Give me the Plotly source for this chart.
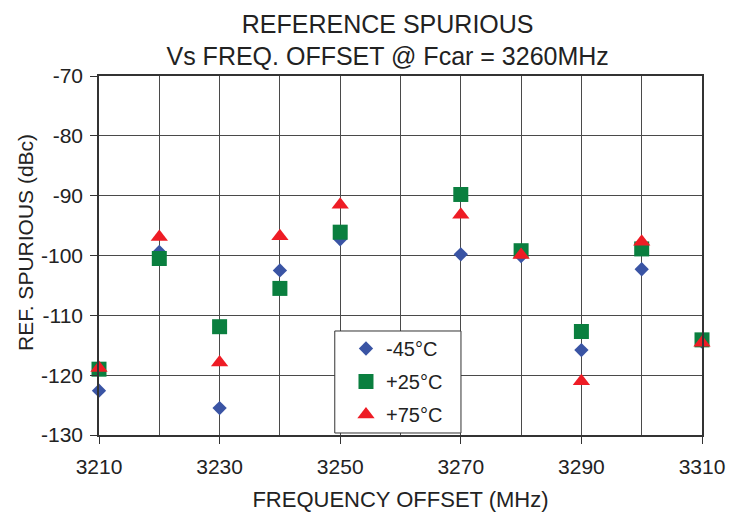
import plotly.graph_objects as go

freq = [3210, 3220, 3230, 3240, 3250, 3270, 3280, 3290, 3300, 3310]
minus45 = [-122.6, -99.4, -125.5, -102.5, -97.3, -99.8, -100.1, -115.8, -102.3, -114.4]
plus25 = [-119.0, -100.5, -111.9, -105.5, -96.1, -89.8, -99.2, -112.7, -98.9, -114.1]
plus75 = [-118.8, -96.9, -117.9, -96.8, -91.5, -93.2, -99.9, -121.0, -97.7, -114.6]

y_ticks = [-130, -120, -110, -100, -90, -80, -70]
y_ticktext = ["-130", "-120", "-110", "-100", "-90", "-80", "-70"]
x_ticks = [3210, 3230, 3250, 3270, 3290, 3310]

series = [
    ("-45°C", minus45, "diamond", "#3A54A4", 11),
    ("+25°C", plus25, "square", "#0A7F3F", 15),
    ("+75°C", plus75, "triangle-up", "#EE1C25", 15),
]

fig = go.Figure()
for i, (name, vals, sym, col, sz) in enumerate(series):
    fig.add_trace(go.Scatter(
        x=freq, y=vals, mode="markers", name=name, legendgroup=str(i),
        cliponaxis=False,
        marker=dict(symbol=sym, color=col, size=sz, line=dict(width=0)),
    ))

font = "Liberation Sans, Arial, sans-serif"
grid = "#4a4a4a"

# legend frame
fig.add_shape(type="rect", xref="paper", yref="paper",
              x0=0.391, x1=0.6003, y0=0.0056, y1=0.2897,
              fillcolor="white", line=dict(color="#333333", width=1), layer="above")

# y axis title
fig.add_annotation(text="REF. SPURIOUS (dBc)", textangle=-90,
                   xref="paper", yref="paper", x=-0.121, y=0.535,
                   xanchor="center", yanchor="middle", showarrow=False,
                   font=dict(size=21, color="#222222"))

fig.update_layout(
    width=743, height=519,
    margin=dict(l=91, r=49, t=68, b=92, autoexpand=False),
    paper_bgcolor="white", plot_bgcolor="white",
    font=dict(family=font, size=21, color="#222222"),
    title=dict(text="REFERENCE SPURIOUS<br>Vs FREQ. OFFSET @ Fcar = 3260MHz",
               x=0.511, xanchor="center", y=0.952, yanchor="middle",
               font=dict(size=25, color="#222222")),
    showlegend=True,
    legend=dict(x=0.4096, y=0.2953, xanchor="left", yanchor="top",
                bgcolor="rgba(0,0,0,0)", borderwidth=0,
                font=dict(size=20), tracegroupgap=4, itemwidth=30),
    xaxis=dict(range=[3210, 3310], tickvals=x_ticks, showgrid=True,
               gridcolor=grid, gridwidth=1.2,
               minor=dict(dtick=10, tick0=3210, showgrid=True, gridcolor=grid, gridwidth=1.2),
               ticks="outside", ticklen=7, tickcolor="#333333",
               ticklabelstandoff=5,
               showline=True, linecolor="#333333", linewidth=1.5, mirror=True,
               zeroline=False,
               title=dict(text="FREQUENCY OFFSET (MHz)", standoff=15, font=dict(size=22))),
    yaxis=dict(range=[-130, -70], tickvals=y_ticks, ticktext=y_ticktext, showgrid=True,
               gridcolor=grid, gridwidth=1.2,
               ticks="outside", ticklen=7, tickcolor="#333333",
               ticklabelstandoff=3,
               showline=True, linecolor="#333333", linewidth=1.5, mirror=True,
               zeroline=False),
)

fig.write_html("out.html")
